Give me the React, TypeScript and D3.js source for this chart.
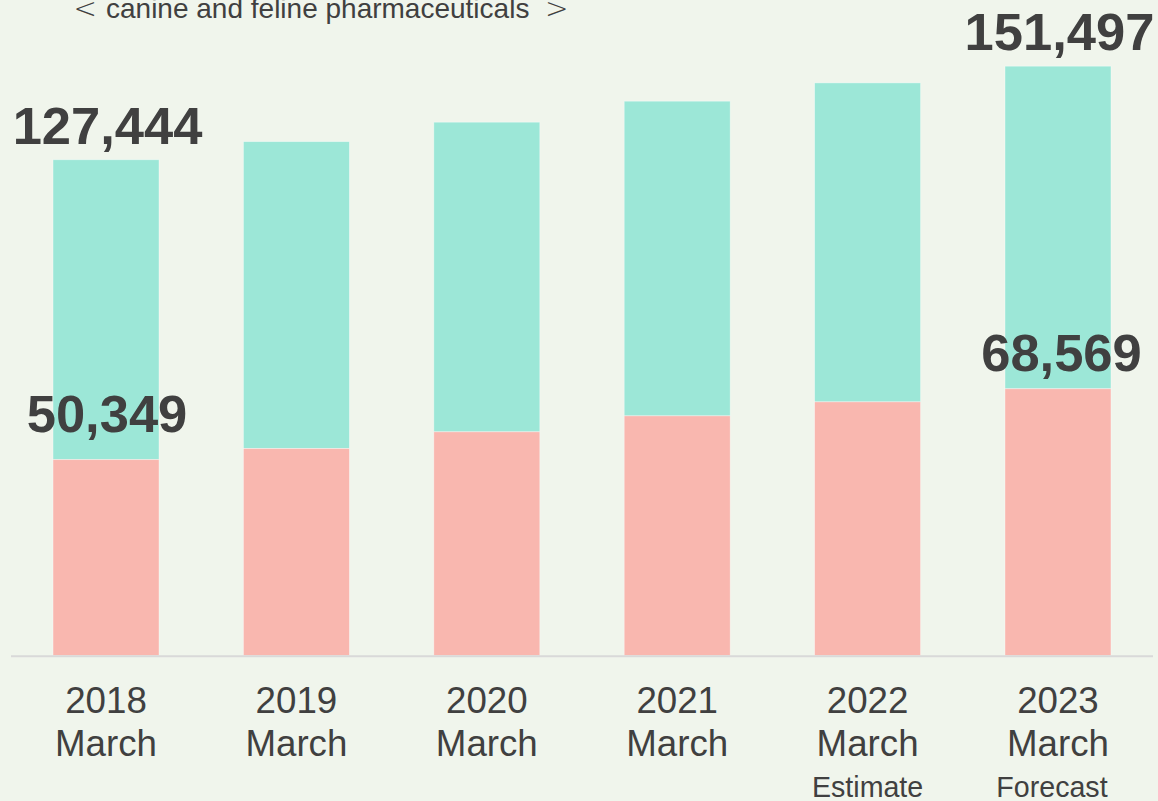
import React from "react";
import * as d3 from "d3";

const categories = ["2018", "2019", "2020", "2021", "2022", "2023"];
const monthLabel = "March";
const noteLabels = ["", "", "", "", "Estimate", "Forecast"];
const canineFeline = [50349, 53200, 57500, 61600, 65200, 68569];
const totals = [127444, 132100, 137100, 142500, 147200, 151497];
const showTotalLabel = [true, false, false, false, false, true];
const showCanineLabel = [true, false, false, false, false, true];
const titleText = "canine and feline pharmaceuticals";

const W = 1158;
const H = 801;
const BG = "#f0f5ec";
const TEAL = "#9ce7d7";
const PINK = "#f9b7af";
const TEXT = "#404040";
const FONT = "'Liberation Sans', Arial, Helvetica, sans-serif";

export default function App() {
  const x = d3
    .scaleBand<string>()
    .domain(categories)
    .range([11, 1153])
    .paddingInner(0.4433)
    .paddingOuter(0.2207);
  const y = d3.scaleLinear().domain([0, 160000]).range([655.5, 33.1]);
  const bw = x.bandwidth();

  return (
    <svg
      width={W}
      height={H}
      style={{ position: "absolute", left: 0, top: 0, display: "block" }}
      fontFamily={FONT}
    >
      <rect x={0} y={0} width={W} height={H} fill={BG} />
      <text x={73.5} y={17.5} fontSize={28} fill={TEXT} fontFamily="'DejaVu Sans', sans-serif" fontWeight={200}>
        {"<"}
      </text>
      <text x={106} y={17.5} fontSize={28} fill={TEXT}>
        {titleText}
      </text>
      <text x={568.5} y={17.5} fontSize={28} fill={TEXT} textAnchor="end" fontFamily="'DejaVu Sans', sans-serif" fontWeight={200}>
        {">"}
      </text>
      {categories.map((c, i) => {
        const x0 = x(c) as number;
        const cx = x0 + bw / 2;
        const yTot = y(totals[i]);
        const yCan = y(canineFeline[i]);
        return (
          <g key={c}>
            <rect
              x={x0}
              y={yTot}
              width={bw}
              height={yCan - yTot}
              fill={TEAL}
              stroke="rgba(255,255,255,0.45)"
              strokeWidth={0.8}
            />
            <rect
              x={x0}
              y={yCan}
              width={bw}
              height={y(0) - yCan}
              fill={PINK}
              stroke="rgba(255,255,255,0.45)"
              strokeWidth={0.8}
            />
            {showTotalLabel[i] && (
              <text
                x={cx + 1.5}
                y={yTot - 16}
                fontSize={52.5}
                fontWeight="bold"
                fill={TEXT}
                textAnchor="middle"
              >
                {d3.format(",")(totals[i])}
              </text>
            )}
            {showCanineLabel[i] && (
              <text
                x={cx + (i === 0 ? 1 : 3.5)}
                y={yCan - (i === 0 ? 28 : 18)}
                fontSize={52.5}
                fontWeight="bold"
                fill={TEXT}
                textAnchor="middle"
              >
                {d3.format(",")(canineFeline[i])}
              </text>
            )}
            <text x={cx} y={713.3} fontSize={36.7} fill={TEXT} textAnchor="middle">
              {c}
            </text>
            <text x={cx} y={755.5} fontSize={36.7} fill={TEXT} textAnchor="middle">
              {monthLabel}
            </text>
            {noteLabels[i] && (
              <text
                x={cx + (i === 5 ? -6 : 0)}
                y={796.7}
                fontSize={28.6}
                fill={TEXT}
                textAnchor="middle"
              >
                {noteLabels[i]}
              </text>
            )}
          </g>
        );
      })}
      <line x1={11} x2={1153} y1={656.2} y2={656.2} stroke="#d9d9d9" strokeWidth={2} />
    </svg>
  );
}
